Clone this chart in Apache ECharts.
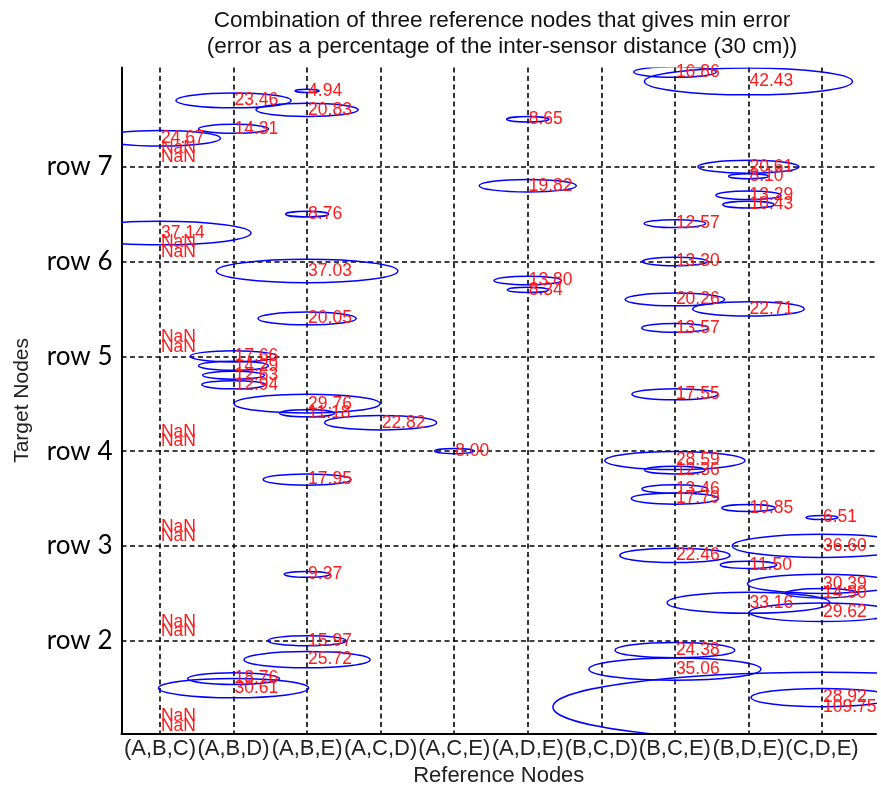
<!DOCTYPE html>
<html>
<head>
<meta charset="utf-8">
<title>Min-error reference node combinations</title>
<script src="https://cdn.jsdelivr.net/npm/echarts@6/dist/echarts.min.js"></script>
<style>
  html, body { margin: 0; padding: 0; background: #ffffff; }
  #chart { width: 881px; height: 793px; }
</style>
</head>
<body>
<div id="chart"></div>
<script>
// Reference-node triples (x axis, positions 1..10)
const combinations = ['(A,B,C)', '(A,B,D)', '(A,B,E)', '(A,C,D)', '(A,C,E)',
                      '(A,D,E)', '(B,C,D)', '(B,C,E)', '(B,D,E)', '(C,D,E)'];
const comboPositions = [1, 2, 3, 4, 5, 6, 7, 8, 9, 10];

// Row ticks on the target-node axis
const rowTicks = [20, 30, 40, 50, 60, 70];
const rowLabels = ['row 2', 'row 3', 'row 4', 'row 5', 'row 6', 'row 7'];

// Target node numbers
const targetNodes = [
  11, 12, 13, 14, 15, 16, 17, 18, 19, 20,
  21, 22, 23, 24, 25, 26, 27, 28, 29, 30,
  31, 32, 33, 34, 35, 36, 37, 38, 39, 40,
  41, 42, 43, 44, 45, 46, 47, 48, 49, 50,
  51, 52, 53, 54, 55, 56, 57, 58, 59, 60,
  61, 62, 63, 64, 65, 66, 67, 68, 69, 70,
  71, 72, 73, 74, 75, 76, 77, 78, 79, 80
];

// Best combination for each target node (position on the x axis)
const bestCombination = [
  1, 1, 10, 10, 2, 2, 8, 3, 8, 3,
  1, 1, 10, 9, 10, 10, 3, 9, 8, 10,
  1, 1, 10, 9, 8, 8, 3, 8, 8, 5,
  1, 1, 4, 3, 3, 8, 2, 2, 2, 2,
  1, 1, 8, 3, 9, 8, 6, 6, 3, 8,
  1, 1, 1, 8, 3, 9, 9, 6, 9, 9,
  1, 1, 1, 2, 6, 3, 2, 3, 9, 8
];

// Minimum error (% of the 30 cm inter-sensor distance); NaN = no solution
const minError = [
  NaN, NaN, 109.75, 28.92, 30.61, 18.76, 35.06, 25.72, 24.38, 15.97,
  NaN, NaN, 29.62, 33.16, 14.90, 30.39, 9.37, 11.50, 22.46, 36.60,
  NaN, NaN, 6.51, 10.85, 17.79, 13.46, 17.95, 12.36, 28.59, 8.00,
  NaN, NaN, 22.82, 11.18, 29.76, 17.55, 12.94, 12.63, 14.29, 17.66,
  NaN, NaN, 13.57, 20.05, 22.71, 20.26, 8.34, 13.80, 37.03, 13.30,
  NaN, NaN, 37.14, 12.57, 8.76, 10.43, 13.29, 19.82, 8.10, 20.61,
  NaN, NaN, 24.67, 14.31, 8.65, 20.83, 23.46, 4.94, 42.43, 16.86
];

// Error circle radius, in axis units, per percent of error
const radiusPerPercent = 1 / 30;

const points = targetNodes.map((node, i) => ({
  value: [bestCombination[i], node, isFinite(minError[i]) ? minError[i] : null],
  label: isFinite(minError[i]) ? minError[i].toFixed(2) : 'NaN'
}));
const circles = points.filter(p => p.value[2] !== null);

const textFont = '"Liberation Sans", Arial, sans-serif';
const gridLine = { color: '#000000', width: 1.6, type: [5, 3.5] };

const chart = echarts.init(document.getElementById('chart'), null, { renderer: 'canvas' });

chart.setOption({
  animation: false,
  backgroundColor: '#ffffff',
  title: {
    text: 'Combination of three reference nodes that gives min error\n(error as a percentage of the inter-sensor distance (30 cm))',
    left: 497,
    top: 3,
    textAlign: 'center',
    textStyle: {
      fontFamily: textFont,
      fontSize: 22.5,
      fontWeight: 'normal',
      color: '#111111',
      lineHeight: 26
    }
  },
  grid: { left: 121.5, right: 5, top: 67.5, bottom: 59.7, containLabel: false },
  xAxis: {
    type: 'value',
    min: 0.477,
    max: 10.734,
    name: 'Reference Nodes',
    nameLocation: 'middle',
    nameGap: 30,
    nameTextStyle: { fontFamily: textFont, fontSize: 22, color: '#222222' },
    axisLine: { show: true, lineStyle: { color: '#000000', width: 2 } },
    axisTick: { show: false, customValues: comboPositions },
    axisLabel: {
      customValues: comboPositions,
      formatter: v => combinations[comboPositions.indexOf(v)] || '',
      fontFamily: textFont,
      fontSize: 22,
      color: '#222222',
      margin: 5
    },
    splitLine: { show: true, lineStyle: gridLine }
  },
  yAxis: {
    type: 'value',
    min: 10.23,
    max: 80.47,
    name: 'Target Nodes',
    nameLocation: 'middle',
    nameGap: 89,
    nameTextStyle: { fontFamily: textFont, fontSize: 21, color: '#222222' },
    axisLine: { show: true, lineStyle: { color: '#000000', width: 2 } },
    axisTick: { show: false, customValues: rowTicks },
    axisLabel: {
      customValues: rowTicks,
      formatter: v => rowLabels[rowTicks.indexOf(v)] || '',
      fontFamily: 'Lato, "Open Sans", sans-serif',
      fontSize: 26,
      color: '#000000',
      margin: 9
    },
    splitLine: { show: true, lineStyle: gridLine }
  },
  series: [
    {
      // error circles, drawn as ellipses because the axes have different scales
      type: 'custom',
      name: 'error',
      clip: true,
      silent: true,
      data: circles.map(p => p.value),
      renderItem: (params, api) => {
        const r = api.value(2) * radiusPerPercent;
        const c = api.coord([api.value(0), api.value(1)]);
        const s = api.size([r, r]);
        return {
          type: 'ellipse',
          shape: { cx: c[0], cy: c[1], rx: s[0], ry: s[1] },
          style: { fill: null, stroke: '#0000ff', lineWidth: 1.5 }
        };
      }
    },
    {
      // value labels, left-aligned at each node's position
      type: 'custom',
      name: 'labels',
      clip: false,
      silent: true,
      data: points.map(p => ({ value: p.value, name: p.label })),
      renderItem: (params, api) => {
        const c = api.coord([api.value(0), api.value(1)]);
        return {
          type: 'text',
          x: c[0] + 1,
          y: c[1],
          style: {
            text: points[params.dataIndex].label,
            fill: '#ff1a1a',
            font: '17.5px ' + textFont,
            align: 'left',
            verticalAlign: 'middle'
          }
        };
      }
    }
  ]
});
</script>
</body>
</html>
